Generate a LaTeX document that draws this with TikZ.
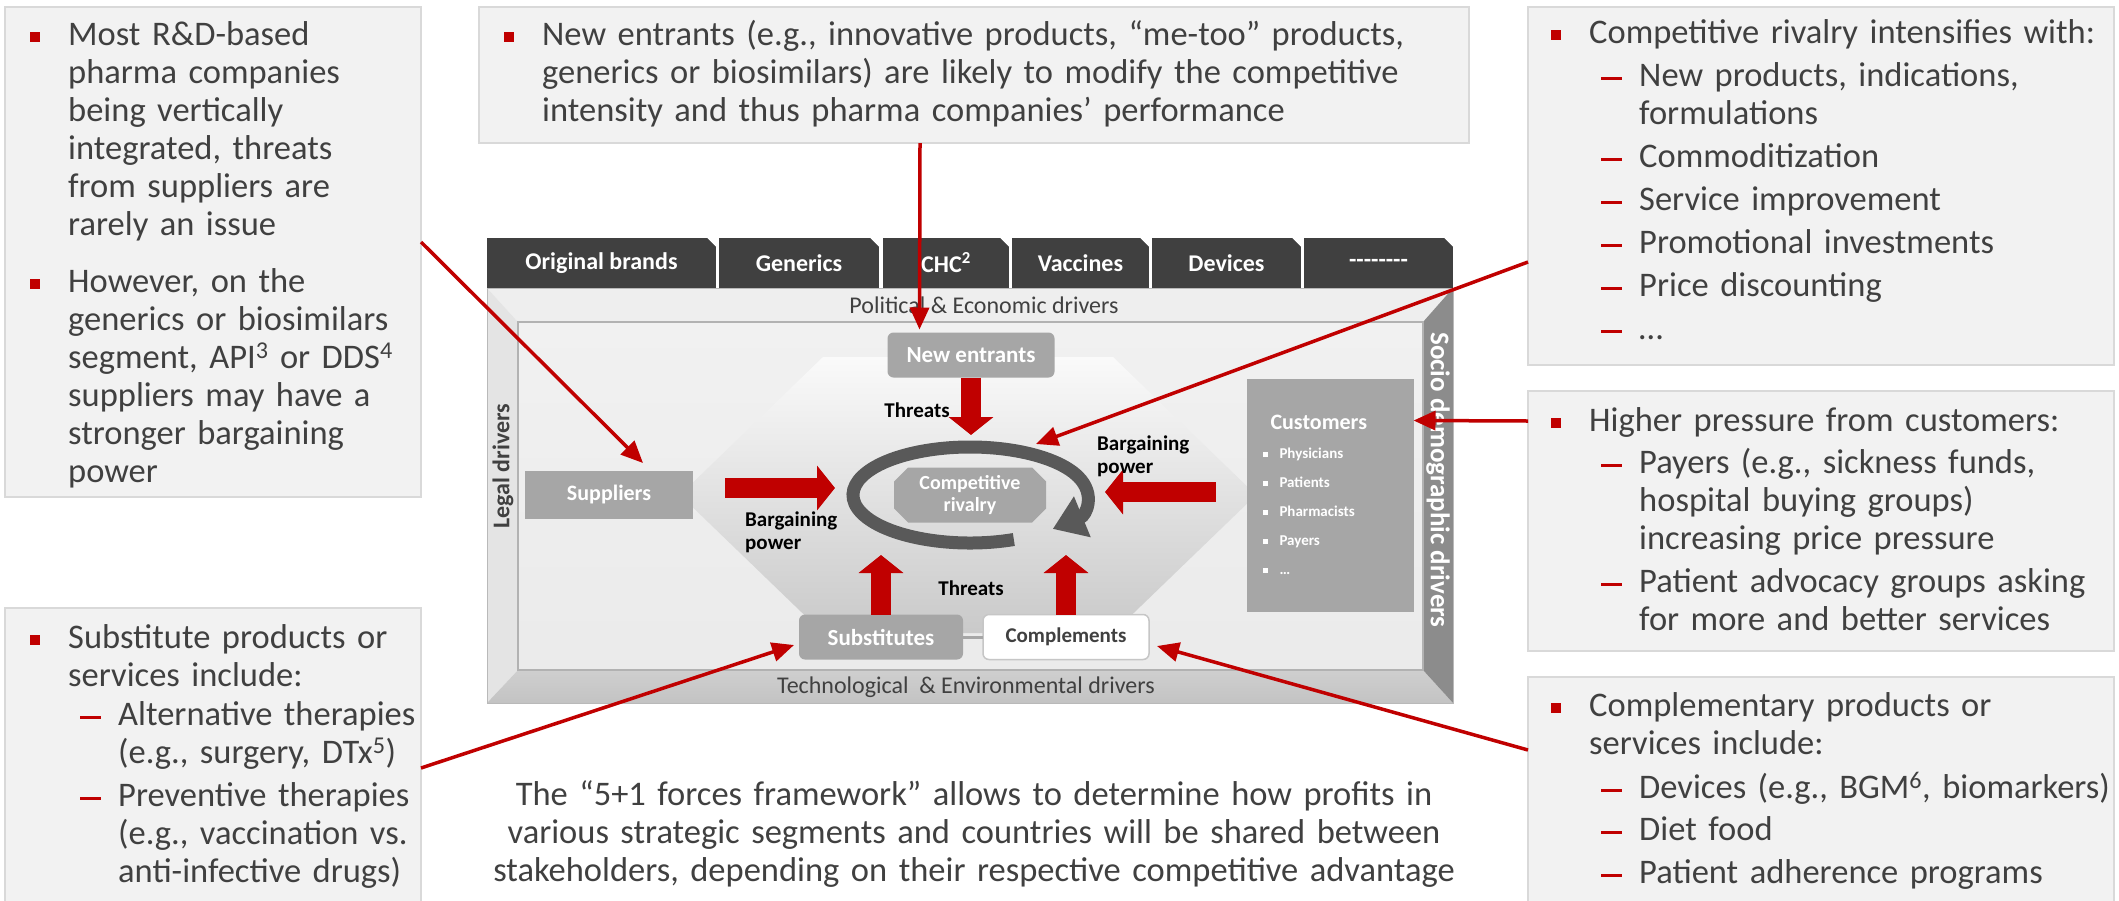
\documentclass[tikz,border=0pt]{standalone}
\usepackage{fontspec}
\setmainfont{Carlito}
\usetikzlibrary{arrows.meta,calc}

\definecolor{fivered}{HTML}{C00000}
\definecolor{boxfill}{HTML}{F2F2F2}
\definecolor{boxline}{HTML}{D9D9D9}
\definecolor{textgray}{HTML}{404040}
\definecolor{nodegray}{HTML}{A6A6A6}
\definecolor{ringgray}{HTML}{595959}
\definecolor{bandlight}{HTML}{EEEEEE}
\definecolor{bandside}{HTML}{E4E4E4}
\definecolor{bandlow}{HTML}{C3C3C3}
\definecolor{banddark}{HTML}{8C8C8C}

\newcommand\notefont{\fontsize{34.5}{38}\selectfont}
\newcommand\tabfont{\fontsize{24}{26}\selectfont\bfseries}
\newcommand\bandfont{\fontsize{24}{26}\selectfont}
\newcommand\forcefont{\fontsize{21}{23}\selectfont\bfseries}
\newcommand\tabdashes{-{}-{}-{}-{}-{}-{}-{}-}

% bullet lines of the side notes
\newcommand\lvlone[1]{\noindent\hangindent=38pt\hangafter=1%
  \makebox[38pt][l]{\raisebox{3pt}{\textcolor{fivered}{\rule{10pt}{10pt}}}}#1\par}
\newcommand\lvltwo[1]{\noindent\hangindent=88pt\hangafter=1\hspace*{50pt}%
  \makebox[38pt][l]{\raisebox{6.5pt}{\textcolor{fivered}{\rule{21pt}{3pt}}}}#1\par}
\newcommand\custbul{\makebox[17pt][l]{\raisebox{2pt}{\rule{5pt}{5pt}}}}

\begin{document}
\begin{tikzpicture}[x=1pt, y=-1pt,
    notebox/.style={draw=boxline, fill=boxfill, line width=2.5pt,
        inner sep=0pt, outer sep=0pt, anchor=north west},
    notetext/.style={anchor=base west, inner sep=0pt, text width=620pt,
        text=textgray, font=\notefont},
    tab/.style={fill=textgray, text=white, font=\tabfont,
        minimum height=50pt, inner sep=0pt},
    bandlabel/.style={text=textgray, font=\bandfont, inner sep=0pt},
    forcebox/.style={fill=nodegray, text=white, font=\forcefont,
        inner sep=0pt, outer sep=0pt},
    forcelabel/.style={text=black, font=\forcefont, inner sep=0pt},
    force/.style={draw=fivered, line width=20pt,
        -{Triangle[length=18pt, width=44pt]}},
    ring/.style={draw=ringgray, line width=13pt,
        -{Triangle[length=32pt, width=42pt]}},
    callout/.style={draw=fivered, line width=3.5pt,
        -{Triangle[length=22pt, width=19pt]}}
]

% Page

\fill[white] (0,0) rectangle (2119,900);
\useasboundingbox (0,0) rectangle (2119,900);


% Side notes

\node[notebox, minimum width=416pt, minimum height=490pt] (supnote) at (5,7) {};
\node[notetext] (suptext) at (30,45) {%
    \lvlone{Most R\&D-based\newline pharma companies\newline being vertically\newline
        integrated, threats\newline from suppliers are\newline rarely an issue}
    \vspace{19pt}
    \lvlone{However, on the\newline generics or biosimilars\newline
        segment, API\textsuperscript{3} or DDS\textsuperscript{4}\newline
        suppliers may have a\newline stronger bargaining\newline power}};

\node[notebox, minimum width=416pt, minimum height=310pt] (subnote) at (5,608) {};
\node[notetext] (subtext) at (30,648) {%
    \lvlone{Substitute products or\newline services include:}
    \vspace{1pt}
    \lvltwo{Alternative therapies\newline (e.g., surgery, DTx\textsuperscript{5})}
    \vspace{5pt}
    \lvltwo{Preventive therapies\newline (e.g., vaccination vs.\newline anti-infective drugs)}};

\node[notebox, minimum width=990pt, minimum height=136pt] (newnote) at (479,7) {};
\node[notetext, text width=940pt] (newtext) at (504,45) {%
    \lvlone{New entrants (e.g., innovative products, “me-too” products,\newline
        generics or biosimilars) are likely to modify the competitive\newline
        intensity and thus pharma companies’ performance}};

\node[notebox, minimum width=586pt, minimum height=358pt] (rivnote) at (1528,7) {};
\node[notetext] (rivtext) at (1551,43) {%
    \lvlone{Competitive rivalry intensifies with:}
    \vspace{5pt}
    \lvltwo{New products, indications,\newline formulations}
    \vspace{5pt}
    \lvltwo{Commoditization}
    \vspace{5pt}
    \lvltwo{Service improvement}
    \vspace{5pt}
    \lvltwo{Promotional investments}
    \vspace{5pt}
    \lvltwo{Price discounting}
    \vspace{5pt}
    \lvltwo{…}};

\node[notebox, minimum width=586pt, minimum height=260pt] (custnote) at (1528,391) {};
\node[notetext] (custtext) at (1551,431) {%
    \lvlone{Higher pressure from customers:}
    \vspace{4pt}
    \lvltwo{Payers (e.g., sickness funds,\newline hospital buying groups)\newline
        increasing price pressure}
    \vspace{5pt}
    \lvltwo{Patient advocacy groups asking\newline for more and better services}};

\node[notebox, minimum width=586pt, minimum height=240pt] (compnote) at (1528,677) {};
\node[notetext] (comptext) at (1551,716) {%
    \lvlone{Complementary products or\newline services include:}
    \vspace{6pt}
    \lvltwo{Devices (e.g., BGM\textsuperscript{6}, biomarkers)}
    \vspace{4pt}
    \lvltwo{Diet food}
    \vspace{5pt}
    \lvltwo{Patient adherence programs}};


% Caption

\node[anchor=base, align=center, text width=1000pt, inner sep=0pt,
    text=textgray, font=\notefont] (caption) at (974,805)
    {The “5+1 forces framework” allows to determine how profits in\\
     various strategic segments and countries will be shared between\\
     stakeholders, depending on their respective competitive advantage};


% Segment tabs

\foreach \xa/\xb/\tabname/\lbl in {487/716/orig/Original brands, 719/879/gen/Generics,
    883/1009/chc/{CHC\textsuperscript{2}}, 1012/1149/vac/Vaccines,
    1152/1301/dev/Devices, 1304/1453/misc/\tabdashes}
{
    \node[tab, minimum width={\xb-\xa}] (tab-\tabname) at ({(\xa+\xb)/2},263) {\lbl};
    \fill[white] (tab-\tabname.north east) -- ++(-9,0) -- ++(9,9) -- cycle;
}


% Frame of drivers

\fill[bandlight] (487,288) -- (1453,288) -- (1423,322) -- (518,322) -- cycle;
\fill[bandside] (487,288) -- (518,322) -- (518,670) -- (487,703) -- cycle;
\shade[top color=bandlow!80!white, bottom color=bandlow]
    (487,703) -- (518,670) -- (1423,670) -- (1453,703) -- cycle;
\fill[banddark] (1453,288) -- (1423,322) -- (1423,670) -- (1453,703) -- cycle;
\draw[gray!55, line width=1pt] (487,288) rectangle (1453,703);
\shade[top color=gray!11, bottom color=gray!16, draw=gray!60, line width=1.2pt]
    (518,322) rectangle (1423,670);

\node[bandlabel] (polit) at (984,305) {Political \& Economic drivers};
\node[bandlabel] (techn) at (966,687) {Technological\ \ \& Environmental drivers};
\node[bandlabel, font=\bandfont\bfseries, rotate=90] (legal) at (503,466) {Legal drivers};
\node[bandlabel, font=\fontsize{27}{29}\selectfont\bfseries, text=white, rotate=-90]
    (socio) at (1438,480) {Socio demographic drivers};


% Hexagon of forces

\shade[top color=gray!4, middle color=gray!30, bottom color=gray!42]
    (680,495) -- (823,357) -- (1113,357) -- (1256,495) -- (1113,633) -- (823,633) -- cycle;


% Forces

\node[forcebox, rounded corners=6pt, minimum width=167pt, minimum height=45pt,
    font=\fontsize{23}{25}\selectfont\bfseries]
    (newent) at (971,355) {New entrants};
\node[forcebox, minimum width=168pt, minimum height=48pt,
    font=\fontsize{22}{24}\selectfont\bfseries] (sup) at (609,495) {Suppliers};
\node[forcebox, rounded corners=6pt, minimum width=164pt, minimum height=45pt,
    font=\fontsize{23}{25}\selectfont\bfseries]
    (subst) at (881,637) {Substitutes};
\node[forcebox, rounded corners=6pt, minimum width=166pt, minimum height=45pt,
    fill=white, draw=gray!45, line width=1.5pt, text=textgray]
    (compl) at (1066,637) {Complements};
\draw[nodegray, line width=3pt] (subst.east) -- (compl.west);

\node[forcebox, fill=none, align=center, minimum width=152pt, minimum height=55pt,
    font=\fontsize{20}{22}\selectfont\bfseries,
    path picture={\fill[nodegray]
        ([xshift=14pt]path picture bounding box.north west) --
        ([xshift=-14pt]path picture bounding box.north east) --
        ([yshift=-14pt]path picture bounding box.north east) --
        ([yshift=14pt]path picture bounding box.south east) --
        ([xshift=-14pt]path picture bounding box.south east) --
        ([xshift=14pt]path picture bounding box.south west) --
        ([yshift=14pt]path picture bounding box.south west) --
        ([yshift=-14pt]path picture bounding box.north west) -- cycle;}]
    (rival) at (970,495) {Competitive\\rivalry};

\node[forcebox, minimum width=167pt, minimum height=233pt, text width=135pt,
    align=left, font=\fontsize{15}{29}\selectfont\bfseries]
    (cust) at (1330,495)
    {\hspace*{8pt}{\fontsize{22}{29}\selectfont Customers}\\
     \custbul Physicians\\ \custbul Patients\\ \custbul Pharmacists\\
     \custbul Payers\\ \custbul …};


% Rivalry ring

\draw[ring] ([shift={(292:117pt and 48pt)}]rival.center)
    arc[start angle=292, end angle=-45, x radius=117pt, y radius=48pt];


% Threats and bargaining power

\coordinate (tipNE) at (971,435);
\coordinate (tipS) at (881,555);
\coordinate (tipC) at (1066,555);

\draw[force] (newent.south) -- (tipNE);
\draw[force] (subst.north) -- (tipS);
\draw[force] (compl.north) -- (tipC);
\draw[force, shorten <=32pt, shorten >=59pt] ([yshift=7pt]sup.east) -- ([yshift=7pt]rival.west);
\draw[force, shorten <=31pt, shorten >=59pt] ([yshift=3pt]cust.west) -- ([yshift=3pt]rival.east);

\node[forcelabel] (thr1) at (917,410) {Threats};
\node[forcelabel] (thr2) at (971,588) {Threats};
\node[forcelabel, align=left, anchor=west] (barg1) at (745,532) {Bargaining\\power};
\node[forcelabel, align=left, anchor=west] (barg2) at (1097,456) {Bargaining\\power};


% Callouts

\draw[callout] ($(supnote.north east)+(0,235)$) -- ($(sup.north)+(34,-8)$);
\draw[callout] ($(newnote.south west)+(441,0)$) -- ($(newent.north west)+(32,-3)$);
\draw[callout] ($(rivnote.north west)+(0,255)$) -- ($(rival.center)+(66,-51)$);
\draw[callout] ($(custnote.north west)+(0,30)$) -- ($(cust.north east)+(0,42)$);
\draw[callout] ($(compnote.north west)+(0,73)$) -- ($(compl.east)+(8,9)$);
\draw[callout] ($(subnote.north east)+(0,160)$) -- ($(subst.west)+(-5,8)$);

\end{tikzpicture}
\end{document}
